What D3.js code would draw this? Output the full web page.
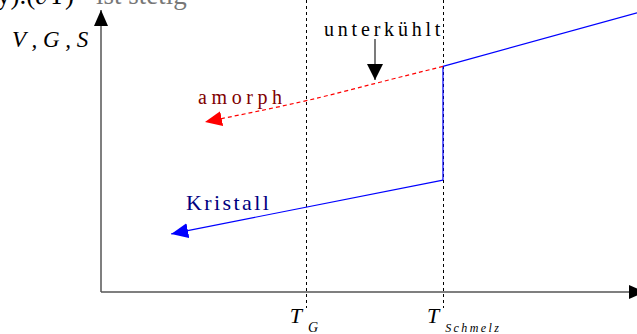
<!DOCTYPE html>
<html lang="en">
<head>
<meta charset="utf-8">
<script src="https://d3js.org/d3.v7.min.js"></script>
<style>
  body { margin: 0; background: #fff; }
  svg { display: block; font-family: "Liberation Serif", "Times New Roman", Times, serif; }
</style>
</head>
<body>
<script>
// schematic values (temperature 0..100, property 0..100)
const tempMarks = [38.2, 63.8];            // T_G, T_Schmelz
const tempLabels = ["G", "Schmelz"];
const meltT = [63.8, 100];                 // liquid above melting point
const meltV = [80, 99];
const amorphT = [63.8, 51.1, 38.2, 19.4];  // supercooled / glass branch
const amorphV = [80, 74, 67.5, 60.3];
const crystT = [63.8, 13.1];               // crystal branch
const crystV = [39.7, 20.6];
const jumpV = [39.7, 80];                  // jump at the melting point

const width = 637, height = 334;
const x = d3.scaleLinear().domain([0, 100]).range([101, 637]);
const y = d3.scaleLinear().domain([0, 100]).range([292, 10]);

const svg = d3.select("body").append("svg")
    .attr("width", width)
    .attr("height", height);

// arrow heads
const defs = svg.append("defs");
function marker(id, color, w, h) {
    defs.append("marker")
        .attr("id", id)
        .attr("viewBox", "0 0 " + w + " " + h)
        .attr("refX", w).attr("refY", h / 2)
        .attr("markerWidth", w).attr("markerHeight", h)
        .attr("markerUnits", "userSpaceOnUse")
        .attr("orient", "auto")
        .append("path")
        .attr("d", "M0,0L" + w + "," + (h / 2) + "L0," + h + "Z")
        .attr("fill", color);
}
marker("arrRed", "#ff0000", 17, 15);
marker("arrBlue", "#0000ff", 17, 15);
marker("arrBlack", "#000", 16, 16);
marker("arrAxis", "#000", 16, 14);

// text at the top edge, cut off as in the original figure
const topText = svg.append("text").attr("x", -3).attr("y", 4)
    .style("font-size", "27px");
topText.append("tspan").attr("fill", "#000").text("y).(\u2202T)");
topText.append("tspan").attr("fill", "#777").attr("dx", 22).text("ist stetig");

// axes
svg.append("line")
    .attr("x1", x(0)).attr("y1", y(0))
    .attr("x2", x(0)).attr("y2", 10)
    .attr("stroke", "#555").attr("stroke-width", 1.5)
    .attr("marker-end", "url(#arrAxis)");
svg.append("line")
    .attr("x1", x(0)).attr("y1", y(0))
    .attr("x2", 645).attr("y2", y(0))
    .attr("stroke", "#555").attr("stroke-width", 1.5)
    .attr("marker-end", "url(#arrAxis)");

// dashed temperature marks
svg.selectAll(".tmark").data(tempMarks).enter().append("line")
    .attr("class", "tmark")
    .attr("x1", d => Math.round(x(d)) + 0.5).attr("x2", d => Math.round(x(d)) + 0.5)
    .attr("y1", 0).attr("y2", 308)
    .attr("stroke", "#000").attr("stroke-width", 1)
    .attr("stroke-dasharray", "3,3");

const line = d3.line().x(d => x(d[0])).y(d => y(d[1]));

// liquid
svg.append("path")
    .attr("d", line(d3.zip(meltT, meltV)))
    .attr("fill", "none").attr("stroke", "#0000ff").attr("stroke-width", 1.2);
// jump
svg.append("path")
    .attr("d", line(jumpV.map(v => [meltT[0], v])))
    .attr("fill", "none").attr("stroke", "#0000ff").attr("stroke-width", 1.2);
// crystal
svg.append("path")
    .attr("d", line(d3.zip(crystT, crystV)))
    .attr("fill", "none").attr("stroke", "#0000ff").attr("stroke-width", 1.2)
    .attr("marker-end", "url(#arrBlue)");
// amorph
svg.append("path")
    .attr("d", line.curve(d3.curveBasis)(d3.zip(amorphT, amorphV)))
    .attr("fill", "none").attr("stroke", "#ff0000").attr("stroke-width", 1.2)
    .attr("stroke-dasharray", "4,3")
    .attr("marker-end", "url(#arrRed)");

// labels
svg.append("text").attr("x", 198).attr("y", 104)
    .attr("fill", "#800000").style("font-size", "20px").style("letter-spacing", "4.6px")
    .text("amorph");
svg.append("text").attr("x", 186).attr("y", 210)
    .attr("fill", "#000080").style("font-size", "22px").style("letter-spacing", "2.4px")
    .text("Kristall");
svg.append("text").attr("x", 324).attr("y", 36)
    .attr("fill", "#000").style("font-size", "20px").style("letter-spacing", "3.8px")
    .text("unterkühlt");
svg.append("line")
    .attr("x1", 375).attr("y1", 39).attr("x2", 375).attr("y2", 80)
    .attr("stroke", "#333").attr("stroke-width", 1.3)
    .attr("marker-end", "url(#arrBlack)");

svg.append("text").attr("x", 12).attr("y", 47)
    .style("font-size", "23px").style("font-style", "italic")
    .text("V , G , S");

// temperature labels
const tl = svg.selectAll(".tl").data(tempMarks).enter().append("text")
    .attr("class", "tl")
    .attr("x", d => x(d) - 16).attr("y", 323)
    .style("font-style", "italic").style("font-size", "22px");
tl.append("tspan").text("T");
tl.append("tspan").data(tempLabels)
    .attr("dx", 6).attr("dy", 9)
    .style("font-size", (d, i) => i === 0 ? "14px" : "12px")
    .style("letter-spacing", (d, i) => i === 0 ? "0px" : "2.4px")
    .text(d => d);
</script>
</body>
</html>
